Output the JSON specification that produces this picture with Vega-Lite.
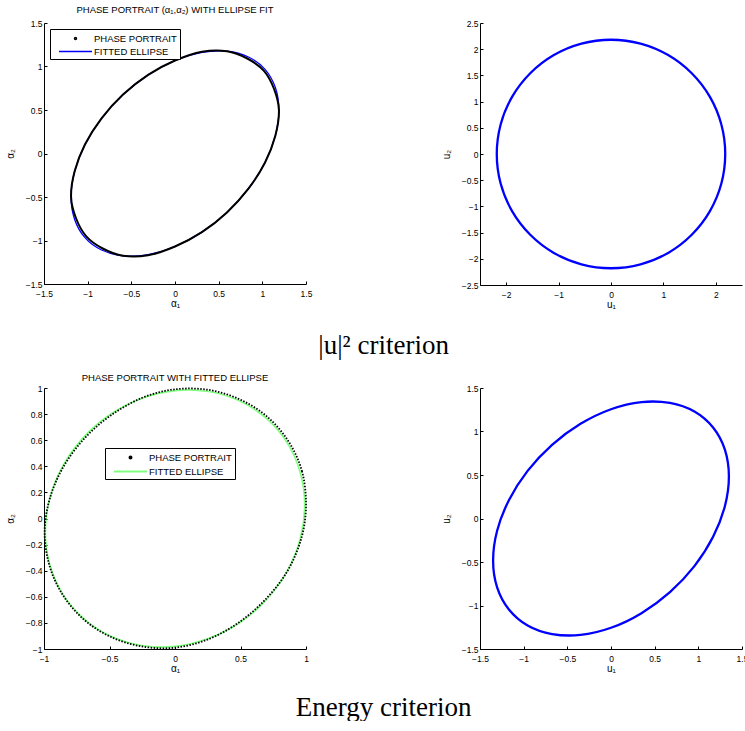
{
  "$schema": "https://vega.github.io/schema/vega-lite/v6.json",
  "background": "white",
  "padding": {"left": 5, "top": 4, "right": 0, "bottom": 0},
  "spacing": 13,
  "resolve": {"scale": {"color": "independent"}, "legend": {"color": "independent"}},
  "config": {
    "view": {"stroke": null},
    "font": "Liberation Sans",
    "axis": {"domainColor": "#000", "tickColor": "#000", "labelColor": "#000", "titleColor": "#000", "labelFont": "Liberation Sans", "titleFont": "Liberation Sans", "labelFontSize": 8.5, "titleFontSize": 10, "titleFontWeight": "normal", "tickSize": -3, "grid": false, "labelFlush": false, "labelOverlap": false, "domainWidth": 1, "tickWidth": 1, "format": "~g"},
    "axisX": {"labelPadding": 8, "titlePadding": 1},
    "axisY": {"labelPadding": 5, "titlePadding": 10},
    "title": {"font": "Liberation Sans", "fontWeight": "normal", "color": "#000", "fontSize": 9.5, "offset": 4},
    "legend": {"labelFont": "Liberation Sans", "labelFontSize": 9.5, "labelColor": "#000"}
  },
  "datasets": {
    "tl": [
      {"series": "FITTED ELLIPSE", "i": 0, "x": 1.19, "y": 0.499},
      {"series": "FITTED ELLIPSE", "i": 1, "x": 1.149, "y": 0.758},
      {"series": "FITTED ELLIPSE", "i": 2, "x": 1.031, "y": 0.967},
      {"series": "FITTED ELLIPSE", "i": 3, "x": 0.841, "y": 1.109},
      {"series": "FITTED ELLIPSE", "i": 4, "x": 0.595, "y": 1.176},
      {"series": "FITTED ELLIPSE", "i": 5, "x": 0.308, "y": 1.162},
      {"series": "FITTED ELLIPSE", "i": 6, "x": 0, "y": 1.069},
      {"series": "FITTED ELLIPSE", "i": 7, "x": -0.308, "y": 0.904},
      {"series": "FITTED ELLIPSE", "i": 8, "x": -0.595, "y": 0.677},
      {"series": "FITTED ELLIPSE", "i": 9, "x": -0.841, "y": 0.404},
      {"series": "FITTED ELLIPSE", "i": 10, "x": -1.031, "y": 0.103},
      {"series": "FITTED ELLIPSE", "i": 11, "x": -1.149, "y": -0.205},
      {"series": "FITTED ELLIPSE", "i": 12, "x": -1.19, "y": -0.499},
      {"series": "FITTED ELLIPSE", "i": 13, "x": -1.149, "y": -0.758},
      {"series": "FITTED ELLIPSE", "i": 14, "x": -1.031, "y": -0.967},
      {"series": "FITTED ELLIPSE", "i": 15, "x": -0.841, "y": -1.109},
      {"series": "FITTED ELLIPSE", "i": 16, "x": -0.595, "y": -1.176},
      {"series": "FITTED ELLIPSE", "i": 17, "x": -0.308, "y": -1.162},
      {"series": "FITTED ELLIPSE", "i": 18, "x": 0, "y": -1.069},
      {"series": "FITTED ELLIPSE", "i": 19, "x": 0.308, "y": -0.904},
      {"series": "FITTED ELLIPSE", "i": 20, "x": 0.595, "y": -0.677},
      {"series": "FITTED ELLIPSE", "i": 21, "x": 0.841, "y": -0.404},
      {"series": "FITTED ELLIPSE", "i": 22, "x": 1.031, "y": -0.103},
      {"series": "FITTED ELLIPSE", "i": 23, "x": 1.149, "y": 0.205},
      {"series": "PHASE PORTRAIT", "i": 0, "x": 1.19, "y": 0.499},
      {"series": "PHASE PORTRAIT", "i": 1, "x": 1.132, "y": 0.747},
      {"series": "PHASE PORTRAIT", "i": 2, "x": 1.016, "y": 0.952},
      {"series": "PHASE PORTRAIT", "i": 3, "x": 0.828, "y": 1.092},
      {"series": "PHASE PORTRAIT", "i": 4, "x": 0.595, "y": 1.176},
      {"series": "PHASE PORTRAIT", "i": 5, "x": 0.31, "y": 1.17},
      {"series": "PHASE PORTRAIT", "i": 6, "x": 0, "y": 1.069},
      {"series": "PHASE PORTRAIT", "i": 7, "x": -0.308, "y": 0.904},
      {"series": "PHASE PORTRAIT", "i": 8, "x": -0.595, "y": 0.677},
      {"series": "PHASE PORTRAIT", "i": 9, "x": -0.841, "y": 0.404},
      {"series": "PHASE PORTRAIT", "i": 10, "x": -1.031, "y": 0.103},
      {"series": "PHASE PORTRAIT", "i": 11, "x": -1.149, "y": -0.205},
      {"series": "PHASE PORTRAIT", "i": 12, "x": -1.19, "y": -0.499},
      {"series": "PHASE PORTRAIT", "i": 13, "x": -1.132, "y": -0.747},
      {"series": "PHASE PORTRAIT", "i": 14, "x": -1.016, "y": -0.952},
      {"series": "PHASE PORTRAIT", "i": 15, "x": -0.828, "y": -1.092},
      {"series": "PHASE PORTRAIT", "i": 16, "x": -0.595, "y": -1.176},
      {"series": "PHASE PORTRAIT", "i": 17, "x": -0.31, "y": -1.17},
      {"series": "PHASE PORTRAIT", "i": 18, "x": 0, "y": -1.069},
      {"series": "PHASE PORTRAIT", "i": 19, "x": 0.308, "y": -0.904},
      {"series": "PHASE PORTRAIT", "i": 20, "x": 0.595, "y": -0.677},
      {"series": "PHASE PORTRAIT", "i": 21, "x": 0.841, "y": -0.404},
      {"series": "PHASE PORTRAIT", "i": 22, "x": 1.031, "y": -0.103},
      {"series": "PHASE PORTRAIT", "i": 23, "x": 1.149, "y": 0.205}
    ],
    "tr": [
      {"i": 0, "x": 2.18, "y": 0}, {"i": 1, "x": 2.106, "y": 0.564}, {"i": 2, "x": 1.888, "y": 1.09}, {"i": 3, "x": 1.541, "y": 1.541},
      {"i": 4, "x": 1.09, "y": 1.888}, {"i": 5, "x": 0.564, "y": 2.106}, {"i": 6, "x": 0, "y": 2.18}, {"i": 7, "x": -0.564, "y": 2.106},
      {"i": 8, "x": -1.09, "y": 1.888}, {"i": 9, "x": -1.541, "y": 1.541}, {"i": 10, "x": -1.888, "y": 1.09}, {"i": 11, "x": -2.106, "y": 0.564},
      {"i": 12, "x": -2.18, "y": 0}, {"i": 13, "x": -2.106, "y": -0.564}, {"i": 14, "x": -1.888, "y": -1.09}, {"i": 15, "x": -1.541, "y": -1.541},
      {"i": 16, "x": -1.09, "y": -1.888}, {"i": 17, "x": -0.564, "y": -2.106}, {"i": 18, "x": 0, "y": -2.18}, {"i": 19, "x": 0.564, "y": -2.106},
      {"i": 20, "x": 1.09, "y": -1.888}, {"i": 21, "x": 1.541, "y": -1.541}, {"i": 22, "x": 1.888, "y": -1.09}, {"i": 23, "x": 2.106, "y": -0.564}
    ],
    "bl": [
      {"series": "FITTED ELLIPSE", "i": 0, "x": 0.99, "y": 0.103},
      {"series": "FITTED ELLIPSE", "i": 1, "x": 0.956, "y": 0.353},
      {"series": "FITTED ELLIPSE", "i": 2, "x": 0.857, "y": 0.579},
      {"series": "FITTED ELLIPSE", "i": 3, "x": 0.7, "y": 0.765},
      {"series": "FITTED ELLIPSE", "i": 4, "x": 0.495, "y": 0.9},
      {"series": "FITTED ELLIPSE", "i": 5, "x": 0.256, "y": 0.973},
      {"series": "FITTED ELLIPSE", "i": 6, "x": 0, "y": 0.98},
      {"series": "FITTED ELLIPSE", "i": 7, "x": -0.256, "y": 0.92},
      {"series": "FITTED ELLIPSE", "i": 8, "x": -0.495, "y": 0.797},
      {"series": "FITTED ELLIPSE", "i": 9, "x": -0.7, "y": 0.62},
      {"series": "FITTED ELLIPSE", "i": 10, "x": -0.857, "y": 0.401},
      {"series": "FITTED ELLIPSE", "i": 11, "x": -0.956, "y": 0.154},
      {"series": "FITTED ELLIPSE", "i": 12, "x": -0.99, "y": -0.103},
      {"series": "FITTED ELLIPSE", "i": 13, "x": -0.956, "y": -0.353},
      {"series": "FITTED ELLIPSE", "i": 14, "x": -0.857, "y": -0.579},
      {"series": "FITTED ELLIPSE", "i": 15, "x": -0.7, "y": -0.765},
      {"series": "FITTED ELLIPSE", "i": 16, "x": -0.495, "y": -0.9},
      {"series": "FITTED ELLIPSE", "i": 17, "x": -0.256, "y": -0.973},
      {"series": "FITTED ELLIPSE", "i": 18, "x": 0, "y": -0.98},
      {"series": "FITTED ELLIPSE", "i": 19, "x": 0.256, "y": -0.92},
      {"series": "FITTED ELLIPSE", "i": 20, "x": 0.495, "y": -0.797},
      {"series": "FITTED ELLIPSE", "i": 21, "x": 0.7, "y": -0.62},
      {"series": "FITTED ELLIPSE", "i": 22, "x": 0.857, "y": -0.401},
      {"series": "FITTED ELLIPSE", "i": 23, "x": 0.956, "y": -0.154},
      {"series": "PHASE PORTRAIT", "i": 0, "x": 1.0, "y": 0.1},
      {"series": "PHASE PORTRAIT", "i": 1, "x": 0.97, "y": 0.36},
      {"series": "PHASE PORTRAIT", "i": 2, "x": 0.87, "y": 0.585},
      {"series": "PHASE PORTRAIT", "i": 3, "x": 0.71, "y": 0.775},
      {"series": "PHASE PORTRAIT", "i": 4, "x": 0.5, "y": 0.91},
      {"series": "PHASE PORTRAIT", "i": 5, "x": 0.26, "y": 0.985},
      {"series": "PHASE PORTRAIT", "i": 6, "x": 0, "y": 0.99},
      {"series": "PHASE PORTRAIT", "i": 7, "x": -0.25, "y": 0.925},
      {"series": "PHASE PORTRAIT", "i": 8, "x": -0.49, "y": 0.79},
      {"series": "PHASE PORTRAIT", "i": 9, "x": -0.69, "y": 0.615},
      {"series": "PHASE PORTRAIT", "i": 10, "x": -0.85, "y": 0.4},
      {"series": "PHASE PORTRAIT", "i": 11, "x": -0.955, "y": 0.155},
      {"series": "PHASE PORTRAIT", "i": 12, "x": -0.995, "y": -0.1},
      {"series": "PHASE PORTRAIT", "i": 13, "x": -0.96, "y": -0.355},
      {"series": "PHASE PORTRAIT", "i": 14, "x": -0.86, "y": -0.58},
      {"series": "PHASE PORTRAIT", "i": 15, "x": -0.7, "y": -0.77},
      {"series": "PHASE PORTRAIT", "i": 16, "x": -0.495, "y": -0.905},
      {"series": "PHASE PORTRAIT", "i": 17, "x": -0.255, "y": -0.98},
      {"series": "PHASE PORTRAIT", "i": 18, "x": 0, "y": -0.99},
      {"series": "PHASE PORTRAIT", "i": 19, "x": 0.255, "y": -0.925},
      {"series": "PHASE PORTRAIT", "i": 20, "x": 0.49, "y": -0.795},
      {"series": "PHASE PORTRAIT", "i": 21, "x": 0.695, "y": -0.615},
      {"series": "PHASE PORTRAIT", "i": 22, "x": 0.86, "y": -0.4},
      {"series": "PHASE PORTRAIT", "i": 23, "x": 0.965, "y": -0.15}
    ],
    "br": [
      {"i": 0, "x": 1.35, "y": 0.482}, {"i": 1, "x": 1.304, "y": 0.791}, {"i": 2, "x": 1.169, "y": 1.045}, {"i": 3, "x": 0.955, "y": 1.229},
      {"i": 4, "x": 0.675, "y": 1.328}, {"i": 5, "x": 0.349, "y": 1.338}, {"i": 6, "x": 0, "y": 1.256}, {"i": 7, "x": -0.349, "y": 1.088},
      {"i": 8, "x": -0.675, "y": 0.846}, {"i": 9, "x": -0.955, "y": 0.547}, {"i": 10, "x": -1.169, "y": 0.21}, {"i": 11, "x": -1.304, "y": -0.141},
      {"i": 12, "x": -1.35, "y": -0.482}, {"i": 13, "x": -1.304, "y": -0.791}, {"i": 14, "x": -1.169, "y": -1.045}, {"i": 15, "x": -0.955, "y": -1.229},
      {"i": 16, "x": -0.675, "y": -1.328}, {"i": 17, "x": -0.349, "y": -1.338}, {"i": 18, "x": 0, "y": -1.256}, {"i": 19, "x": 0.349, "y": -1.088},
      {"i": 20, "x": 0.675, "y": -0.846}, {"i": 21, "x": 0.955, "y": -0.547}, {"i": 22, "x": 1.169, "y": -0.21}, {"i": 23, "x": 1.304, "y": 0.141}
    ]
  },
  "vconcat": [
    {
      "bounds": "flush",
      "spacing": 174,
      "title": {"text": "|u|² criterion", "orient": "bottom", "font": "Liberation Serif", "fontSize": 27, "fontWeight": "normal", "color": "#000", "offset": 23, "anchor": "middle", "dx": 10},
      "hconcat": [
        {
          "width": 262, "height": 261,
          "title": {"text": "PHASE PORTRAIT (α₁,α₂) WITH ELLIPSE FIT", "offset": 5},
          "data": {"name": "tl"},
          "layer": [
            {
              "transform": [{"filter": "datum.series === 'FITTED ELLIPSE'"}],
              "mark": {"type": "line", "interpolate": "cardinal-closed", "strokeWidth": 1.3},
              "encoding": {
                "x": {"field": "x", "type": "quantitative", "scale": {"domain": [-1.5, 1.5], "nice": false, "zero": false}, "axis": {"title": "α₁", "values": [-1.5, -1, -0.5, 0, 0.5, 1, 1.5], "tickCount": 20, "labelOverlap": false}},
                "y": {"field": "y", "type": "quantitative", "scale": {"domain": [-1.5, 1.5], "nice": false, "zero": false}, "axis": {"title": "α₂", "values": [-1.5, -1, -0.5, 0, 0.5, 1, 1.5], "tickCount": 20, "labelOverlap": false}},
                "order": {"field": "i", "type": "quantitative"},
                "color": {"field": "series", "type": "nominal", "scale": {"domain": ["PHASE PORTRAIT", "FITTED ELLIPSE"], "range": ["#000000", "#0000ff"]},
                  "legend": {"title": null, "orient": "top-left", "offset": 6, "symbolType": "M-3,0L3,0", "symbolSize": 121, "symbolOffset": 16, "symbolStrokeWidth": 1.5, "strokeColor": "#000", "fillColor": "#fff", "padding": 3, "rowPadding": 2, "labelOffset": 12,
                    "encode": {"symbols": {"update": {"shape": {"signal": "datum.label === 'PHASE PORTRAIT' ? 'circle' : 'M-3,0L3,0'"}, "size": {"signal": "datum.label === 'PHASE PORTRAIT' ? 4 : 121"}}}}}}
              }
            },
            {
              "transform": [{"filter": "datum.series === 'PHASE PORTRAIT'"}],
              "mark": {"type": "line", "interpolate": "cardinal-closed", "strokeWidth": 2},
              "encoding": {
                "x": {"field": "x", "type": "quantitative"},
                "y": {"field": "y", "type": "quantitative"},
                "order": {"field": "i", "type": "quantitative"},
                "color": {"field": "series", "type": "nominal"}
              }
            }
          ]
        },
        {
          "width": 262, "height": 262,
          "data": {"name": "tr"},
          "mark": {"type": "line", "interpolate": "cardinal-closed", "strokeWidth": 2.3, "color": "#0000ff"},
          "encoding": {
            "x": {"field": "x", "type": "quantitative", "scale": {"domain": [-2.5, 2.5], "nice": false, "zero": false}, "axis": {"title": "u₁", "values": [-2, -1, 0, 1, 2], "tickCount": 20, "labelOverlap": false}},
            "y": {"field": "y", "type": "quantitative", "scale": {"domain": [-2.5, 2.5], "nice": false, "zero": false}, "axis": {"title": "u₂", "values": [-2.5, -2, -1.5, -1, -0.5, 0, 0.5, 1, 1.5, 2, 2.5], "tickCount": 20, "labelOverlap": false}},
            "order": {"field": "i", "type": "quantitative"}
          }
        }
      ]
    },
    {
      "bounds": "flush",
      "spacing": 174,
      "title": {"text": "Energy criterion", "orient": "bottom", "font": "Liberation Serif", "fontSize": 27, "fontWeight": "normal", "color": "#000", "offset": 21, "anchor": "middle", "dx": 7},
      "hconcat": [
        {
          "width": 262, "height": 261,
          "title": {"text": "PHASE PORTRAIT WITH FITTED ELLIPSE", "offset": 2},
          "data": {"name": "bl"},
          "layer": [
            {
              "transform": [{"filter": "datum.series === 'FITTED ELLIPSE'"}],
              "mark": {"type": "line", "interpolate": "cardinal-closed", "strokeWidth": 1.6},
              "encoding": {
                "x": {"field": "x", "type": "quantitative", "scale": {"domain": [-1, 1], "nice": false, "zero": false}, "axis": {"title": "α₁", "values": [-1, -0.5, 0, 0.5, 1], "tickCount": 20, "labelOverlap": false}},
                "y": {"field": "y", "type": "quantitative", "scale": {"domain": [-1, 1], "nice": false, "zero": false}, "axis": {"title": "α₂", "values": [-1, -0.8, -0.6, -0.4, -0.2, 0, 0.2, 0.4, 0.6, 0.8, 1], "tickCount": 20, "labelOverlap": false}},
                "order": {"field": "i", "type": "quantitative"},
                "color": {"field": "series", "type": "nominal", "scale": {"domain": ["PHASE PORTRAIT", "FITTED ELLIPSE"], "range": ["#000000", "#80ff80"]},
                  "legend": {"title": null, "orient": "none", "legendX": 61, "legendY": 60, "symbolType": "M-3,0L3,0", "symbolSize": 121, "symbolOffset": 16, "symbolStrokeWidth": 2, "strokeColor": "#000", "fillColor": "#fff", "padding": 3, "rowPadding": 2, "labelOffset": 12,
                    "encode": {"symbols": {"update": {"shape": {"signal": "datum.label === 'PHASE PORTRAIT' ? 'circle' : 'M-3,0L3,0'"}, "size": {"signal": "datum.label === 'PHASE PORTRAIT' ? 4 : 121"}}}}}}
              }
            },
            {
              "transform": [{"filter": "datum.series === 'PHASE PORTRAIT'"}],
              "mark": {"type": "line", "interpolate": "cardinal-closed", "strokeWidth": 1.8, "strokeDash": [1.5, 1.5]},
              "encoding": {
                "x": {"field": "x", "type": "quantitative"},
                "y": {"field": "y", "type": "quantitative"},
                "order": {"field": "i", "type": "quantitative"},
                "color": {"field": "series", "type": "nominal"}
              }
            }
          ]
        },
        {
          "width": 262, "height": 261,
          "data": {"name": "br"},
          "mark": {"type": "line", "interpolate": "cardinal-closed", "strokeWidth": 2.3, "color": "#0000ff"},
          "encoding": {
            "x": {"field": "x", "type": "quantitative", "scale": {"domain": [-1.5, 1.5], "nice": false, "zero": false}, "axis": {"title": "u₁", "values": [-1.5, -1, -0.5, 0, 0.5, 1, 1.5], "tickCount": 20, "labelOverlap": false}},
            "y": {"field": "y", "type": "quantitative", "scale": {"domain": [-1.5, 1.5], "nice": false, "zero": false}, "axis": {"title": "u₂", "values": [-1.5, -1, -0.5, 0, 0.5, 1, 1.5], "tickCount": 20, "labelOverlap": false}},
            "order": {"field": "i", "type": "quantitative"}
          }
        }
      ]
    }
  ]
}
